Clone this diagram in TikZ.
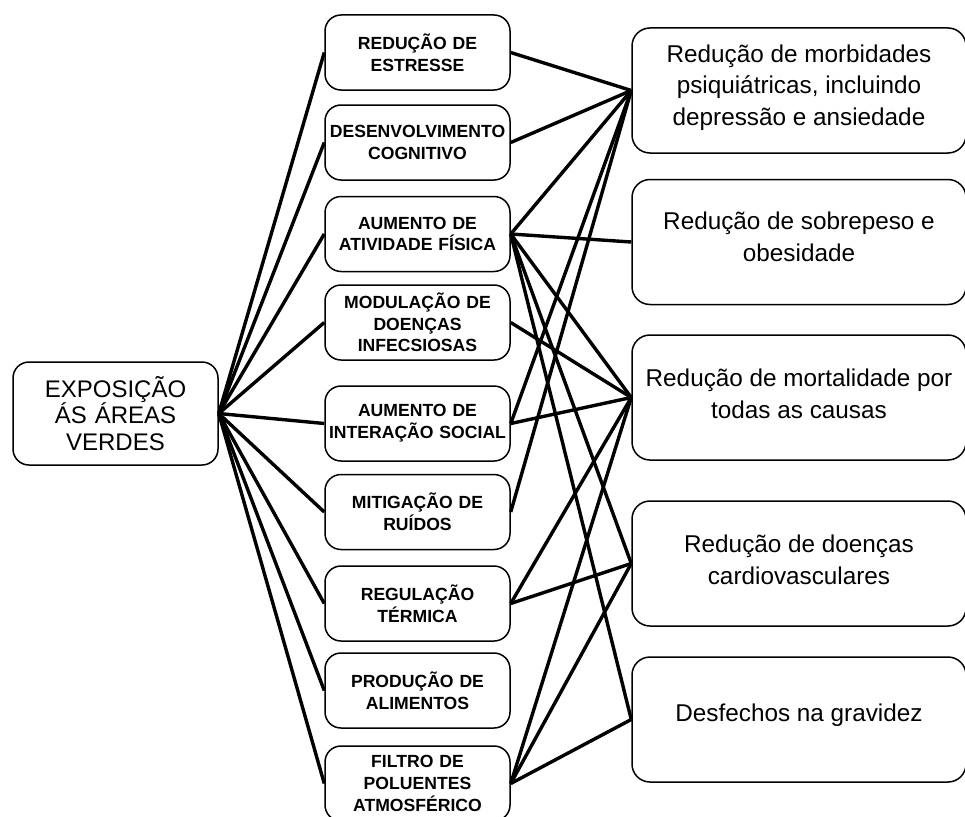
\documentclass[tikz,border=0pt]{standalone}
\usepackage{fontspec}
\setmainfont{Liberation Sans}
\begin{document}
\begin{tikzpicture}[x=1pt,y=-1pt,
  box/.style={draw, line width=1.5pt, rounded corners=16pt, align=center, inner sep=0pt, fill=white},
  mid/.style={box, minimum width=185pt, minimum height=75pt, text width=184pt,
    font=\fontsize{17.6}{21.7}\selectfont\bfseries},
  outbox/.style={box, minimum width=334pt, minimum height=125pt, rounded corners=18pt},
  outtxt/.style={align=center, inner sep=0pt, font=\fontsize{24.3}{31.7}\selectfont},
  srcbox/.style={box, minimum width=205pt, minimum height=103pt, text width=200pt,
    font=\fontsize{24}{26.5}\selectfont},
  link/.style={line width=3.4pt}]
\useasboundingbox (0,0) rectangle (965,816);

% source
\node[srcbox] (src) at (115.5,413.5) {EXPOSIÇÃO\\ÁS ÁREAS\\VERDES};

% mechanisms
\node[mid] (m1) at (417.5,52.5)  {REDUÇÃO DE\\ESTRESSE};
\node[mid] (m2) at (417.5,142.5) {DESENVOLVIMENTO\\COGNITIVO};
\node[mid] (m3) at (417.5,234)   {AUMENTO DE\\ATIVIDADE FÍSICA};
\node[mid] (m4) at (417.5,322.5) {MODULAÇÃO DE\\DOENÇAS\\INFECSIOSAS};
\node[mid] (m5) at (417.5,423.5) {AUMENTO DE\\INTERAÇÃO SOCIAL};
\node[mid] (m6) at (417.5,512)   {MITIGAÇÃO DE\\RUÍDOS};
\node[mid] (m7) at (417.5,603.5) {REGULAÇÃO\\TÉRMICA};
\node[mid] (m8) at (417.5,690.5) {PRODUÇÃO DE\\ALIMENTOS};
\node[mid] (m9) at (417.5,783.5) {FILTRO DE\\POLUENTES\\ATMOSFÉRICO};

% outcomes
\node[outbox] (r1) at (799,90.5)  {};
\node[outbox] (r2) at (799,242)   {};
\node[outbox] (r3) at (799,397.5) {};
\node[outbox] (r4) at (799,563.5) {};
\node[outbox] (r5) at (799,719.5) {};
\node[outtxt] (t1) at ([yshift=3pt]r1.center) {Redução de morbidades\\psiquiátricas, incluindo\\depressão e ansiedade};
\node[outtxt] (t2) at ([yshift=5pt]r2.center) {Redução de sobrepeso e\\obesidade};
\node[outtxt] (t3) at ([yshift=4pt]r3.center) {Redução de mortalidade por\\todas as causas};
\node[outtxt] (t4) at ([yshift=4pt]r4.center) {Redução de doenças\\cardiovasculares};
\node[outtxt] (t5) at ([yshift=4pt]r5.center) {Desfechos na gravidez};

% source to mechanisms
\foreach \m in {m1,m2,m3,m4,m5,m6,m7,m8,m9}
  \draw[link] (src.east) -- (\m.west);

% mechanisms to outcomes
\draw[link] (m1.east) -- (r1.west);
\draw[link] (m2.east) -- (r1.west);
\draw[link] (m3.east) -- (r1.west);
\draw[link] (m3.east) -- (r2.west);
\draw[link] (m3.east) -- (r3.west);
\draw[link] (m3.east) -- (r4.west);
\draw[link] (m3.east) -- (r5.west);
\draw[link] (m4.east) -- (r3.west);
\draw[link] (m5.east) -- (r1.west);
\draw[link] (m5.east) -- (r3.west);
\draw[link] (m6.east) -- (r1.west);
\draw[link] (m7.east) -- (r3.west);
\draw[link] (m7.east) -- (r4.west);
\draw[link] (m9.east) -- (r3.west);
\draw[link] (m9.east) -- (r4.west);
\draw[link] (m9.east) -- (r5.west);
\end{tikzpicture}
\end{document}
